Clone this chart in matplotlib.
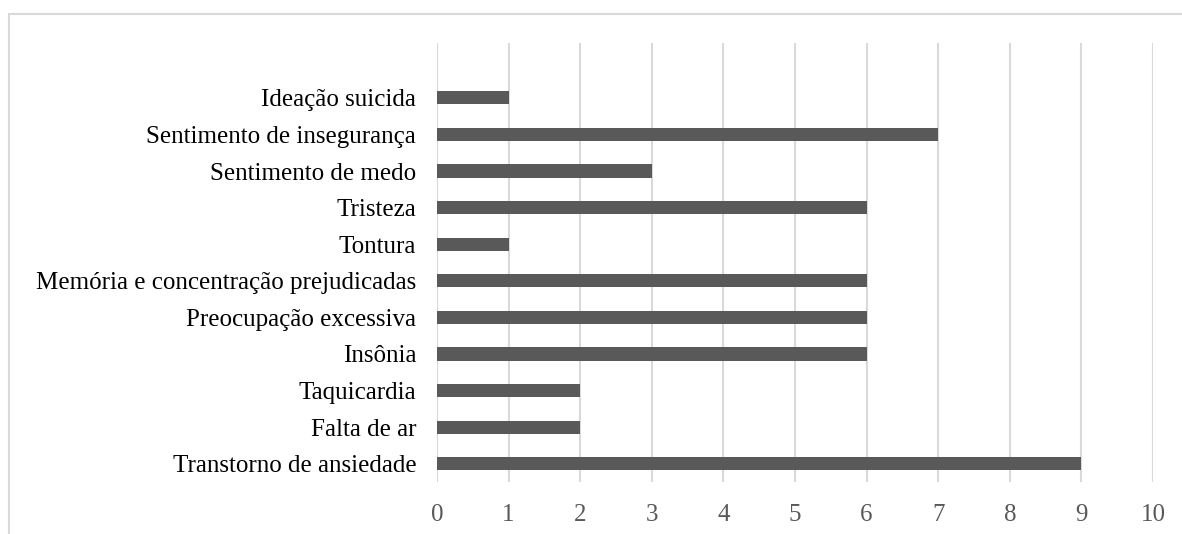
import matplotlib
matplotlib.use("Agg")
import matplotlib.pyplot as plt
from matplotlib.patches import Rectangle

categories = ["Transtorno de ansiedade", "Falta de ar", "Taquicardia", "Insônia",
              "Preocupação excessiva", "Memória e concentração prejudicadas",
              "Tontura", "Tristeza", "Sentimento de medo",
              "Sentimento de insegurança", "Ideação suicida"]
values = [9, 2, 2, 6, 6, 6, 1, 6, 3, 7, 1]
xticks = list(range(0, 11))

plt.rcParams['font.family'] = ['Liberation Serif', 'DejaVu Serif']

fig = plt.figure(figsize=(11.82, 5.34), dpi=100)
ax = fig.add_axes([437/1182, 1 - 482/534, (1153 - 437)/1182, (482 - 43)/534])

pos = list(range(len(categories)))
ax.barh(pos, values, height=0.36, color="#595959", zorder=3)

ax.set_xlim(0, 10)
ax.set_ylim(-0.5, 11.5)
ax.set_xticks(xticks)
ax.set_yticks(pos)
ax.set_yticklabels(categories, fontsize=18, color="#000000")
ax.tick_params(axis='x', labelsize=18, labelcolor="#595959", length=0, pad=16)
ax.tick_params(axis='y', length=0, pad=15)
ax.grid(axis='x', color="#d9d9d9", linewidth=1.5, zorder=0)
for s in ax.spines.values():
    s.set_visible(False)

# outer chart border (cropped at right and bottom)
fig.patches.append(Rectangle((9/1182, -0.1), 1.2, 1 - 14/534 + 0.1,
                             transform=fig.transFigure, fill=False,
                             edgecolor="#d9d9d9", linewidth=1.5))

fig.savefig("out.png", dpi=100)
